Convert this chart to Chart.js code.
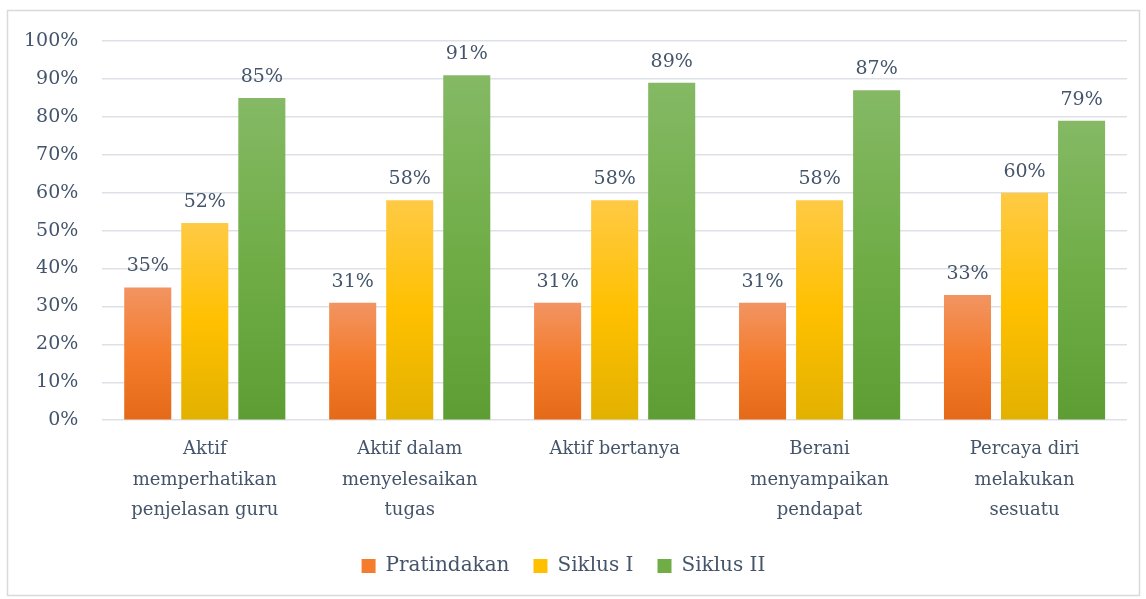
<!DOCTYPE html>
<html>
<head>
<meta charset="utf-8">
<script src="https://cdn.jsdelivr.net/npm/chart.js@4/dist/chart.umd.min.js"></script>
<style>
  html, body { margin: 0; padding: 0; background: #fff; }
  #wrap { width: 1146px; height: 599px; }
</style>
</head>
<body>
<div id="wrap"><canvas id="chart" width="1146" height="599"></canvas></div>
<script>
const categories = [
    ['Aktif', 'memperhatikan', 'penjelasan guru'],
    ['Aktif dalam', 'menyelesaikan', 'tugas'],
    'Aktif bertanya',
    ['Berani', 'menyampaikan', 'pendapat'],
    ['Percaya diri', 'melakukan', 'sesuatu']
];
const pratindakan = [35, 31, 31, 31, 33];
const siklus1 = [52, 58, 58, 58, 60];
const siklus2 = [85, 91, 89, 87, 79];

const textColor = '#44546A';
const font = 'DejaVu Serif';

// top, middle, bottom colours of each bar gradient
const shades = {
    orange: ['#F29462', '#F47C2C', '#E46A18'],
    yellow: ['#FFCA45', '#FFC000', '#E2B100'],
    green:  ['#85B965', '#70AD47', '#5E9D34']
};

function barFill(colors) {
    return ctx => {
        const chart = ctx.chart;
        if (!chart.chartArea || ctx.type !== 'data') return colors[1];
        const y = chart.scales.y;
        const top = y.getPixelForValue(ctx.raw);
        const bottom = y.getPixelForValue(0);
        if (!isFinite(top) || bottom - top < 1) return colors[1];
        const g = chart.ctx.createLinearGradient(0, top, 0, bottom);
        g.addColorStop(0, colors[0]);
        g.addColorStop(0.5, colors[1]);
        g.addColorStop(1, colors[2]);
        return g;
    };
}

const frame = {
    id: 'frame',
    beforeDraw(chart) {
        const c = chart.ctx;
        c.save();
        c.strokeStyle = '#D9D9D9';
        c.lineWidth = 1.5;
        c.strokeRect(7.5, 10.5, 1132, 585);
        c.restore();
    }
};

const valueLabels = {
    id: 'valueLabels',
    afterDatasetsDraw(chart) {
        const c = chart.ctx;
        c.save();
        c.fillStyle = textColor;
        c.font = '19px "' + font + '"';
        c.textAlign = 'center';
        c.textBaseline = 'alphabetic';
        chart.data.datasets.forEach((ds, i) => {
            chart.getDatasetMeta(i).data.forEach((bar, j) => {
                c.fillText(ds.data[j] + '%', bar.x, bar.y - 16);
            });
        });
        c.restore();
    }
};

new Chart(document.getElementById('chart'), {
    type: 'bar',
    data: {
        labels: categories,
        datasets: [
            { label: 'Pratindakan', data: pratindakan, backgroundColor: barFill(shades.orange), legendColor: shades.orange[1] },
            { label: 'Siklus I', data: siklus1, backgroundColor: barFill(shades.yellow), legendColor: shades.yellow[1] },
            { label: 'Siklus II', data: siklus2, backgroundColor: barFill(shades.green), legendColor: shades.green[1] }
        ]
    },
    options: {
        responsive: false,
        animation: false,
        categoryPercentage: 0.835,
        barPercentage: 0.825,
        layout: { padding: { top: 41, left: 0, right: 19, bottom: 13 } },
        plugins: {
            tooltip: { enabled: false },
            legend: {
                position: 'bottom',
                labels: {
                    color: textColor,
                    font: { family: font, size: 20 },
                    boxWidth: 14,
                    boxHeight: 14,
                    padding: 24,
                    generateLabels: chart => chart.data.datasets.map((ds, i) => ({
                        text: ds.label,
                        fillStyle: ds.legendColor,
                        strokeStyle: ds.legendColor,
                        lineWidth: 0,
                        fontColor: textColor,
                        datasetIndex: i
                    }))
                }
            }
        },
        scales: {
            x: {
                grid: { display: false },
                border: { display: false },
                ticks: {
                    color: textColor,
                    font: { family: font, size: 18, lineHeight: 1.7 },
                    padding: 6,
                    maxRotation: 0
                }
            },
            y: {
                min: 0,
                max: 100,
                border: { display: false },
                grid: { color: '#DDE1E7', lineWidth: 1.5, drawTicks: false },
                ticks: {
                    stepSize: 10,
                    color: textColor,
                    font: { family: font, size: 19 },
                    padding: 24,
                    callback: v => v + '%'
                }
            }
        }
    },
    plugins: [frame, valueLabels]
});
</script>
</body>
</html>
